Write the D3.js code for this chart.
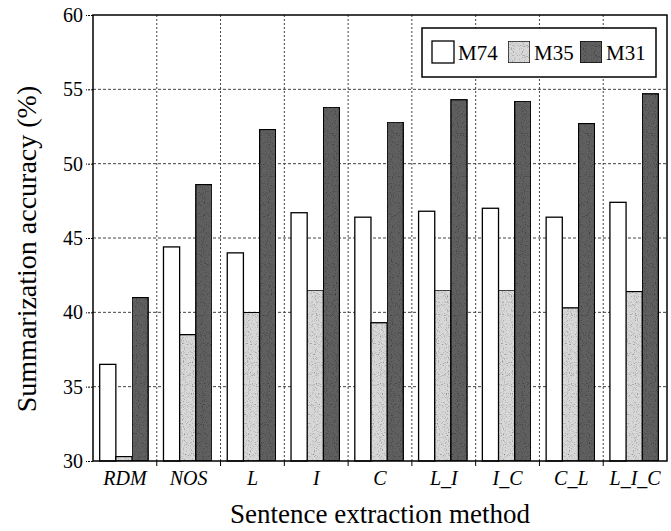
<!DOCTYPE html>
<html>
<head>
<meta charset="utf-8">
<script src="https://cdnjs.cloudflare.com/ajax/libs/d3/7.8.5/d3.min.js"></script>
<style>
  body { margin: 0; background: #fff; }
  svg { display: block; font-family: 'Liberation Serif', 'Times New Roman', serif; }
  .axis path, .axis line { stroke: #000; }
  .grid line { stroke: #444; stroke-width: 1; }
</style>
</head>
<body>
<svg id="chart"></svg>
<script>
  'use strict';

  var categories = ['RDM', 'NOS', 'L', 'I', 'C', 'L_I', 'I_C', 'C_L', 'L_I_C'];
  var seriesNames = ['M74', 'M35', 'M31'];
  var m74 = [36.5, 44.4, 44.0, 46.7, 46.4, 46.8, 47.0, 46.4, 47.4];
  var m35 = [30.3, 38.5, 40.0, 41.5, 39.3, 41.5, 41.5, 40.3, 41.4];
  var m31 = [41.0, 48.6, 52.3, 53.8, 52.8, 54.3, 54.2, 52.7, 54.7];
  var yTicks = [30, 35, 40, 45, 50, 55, 60];

  var svgWidth = 671, svgHeight = 531;
  var plot = { left: 93, right: 667, top: 15, bottom: 461 };

  var colors = { M74: '#ffffff', M35: '#d8d8d8', M31: '#606060' };
  var grain = { M74: null, M35: 'url(#grain)', M31: 'url(#grain)' };

  var svg = d3.select('#chart')
    .attr('width', svgWidth)
    .attr('height', svgHeight);

  /* stipple look of the scanned fills */
  var filter = svg.append('defs').append('filter')
    .attr('id', 'grain')
    .attr('x', 0).attr('y', 0).attr('width', 1).attr('height', 1);
  filter.append('feTurbulence')
    .attr('type', 'fractalNoise')
    .attr('baseFrequency', 0.9)
    .attr('numOctaves', 1)
    .attr('seed', 4)
    .attr('result', 'noise');
  filter.append('feColorMatrix')
    .attr('in', 'noise')
    .attr('type', 'matrix')
    .attr('values', '0 0 0 0 0  0 0 0 0 0  0 0 0 0 0  -2.2 0 0 0 1.05')
    .attr('result', 'dots');
  filter.append('feComposite')
    .attr('in', 'dots').attr('in2', 'SourceGraphic')
    .attr('operator', 'in')
    .attr('result', 'clipped');
  var merge = filter.append('feMerge');
  merge.append('feMergeNode').attr('in', 'SourceGraphic');
  merge.append('feMergeNode').attr('in', 'clipped');

  /* build rows from the arrays */
  var rows = categories.map(function(c, i) {
    return { cat: c, values: [
      { key: 'M74', value: m74[i] },
      { key: 'M35', value: m35[i] },
      { key: 'M31', value: m31[i] }
    ] };
  });

  var x0 = d3.scaleBand().domain(categories).range([plot.left, plot.right]).padding(0);
  var bw = x0.bandwidth();
  var x1 = d3.scaleBand().domain(seriesNames).range([bw * 0.105, bw * 0.865]);
  var y = d3.scaleLinear().domain([30, 60]).range([plot.bottom, plot.top]);

  /* grid */
  var grid = svg.append('g').attr('class', 'grid');
  grid.selectAll('.hg')
    .data(yTicks.slice(1, -1))
    .enter().append('line')
      .attr('x1', plot.left).attr('x2', plot.right)
      .attr('y1', function(d) { return y(d); })
      .attr('y2', function(d) { return y(d); })
      .attr('stroke-dasharray', '3,2');
  grid.selectAll('.vg')
    .data(categories.slice(1))
    .enter().append('line')
      .attr('x1', function(d) { return x0(d); })
      .attr('x2', function(d) { return x0(d); })
      .attr('y1', plot.top).attr('y2', plot.bottom)
      .attr('stroke-dasharray', '2,2');

  /* bars */
  var groups = svg.append('g').selectAll('.group')
    .data(rows)
    .enter().append('g')
      .attr('transform', function(d) { return 'translate(' + x0(d.cat) + ',0)'; });

  groups.selectAll('rect')
    .data(function(d) { return d.values; })
    .enter().append('rect')
      .attr('x', function(d) { return x1(d.key); })
      .attr('width', x1.bandwidth())
      .attr('y', function(d) { return y(d.value); })
      .attr('height', function(d) { return plot.bottom - y(d.value); })
      .attr('fill', function(d) { return colors[d.key]; })
      .attr('filter', function(d) { return grain[d.key]; })
      .attr('stroke', '#000')
      .attr('stroke-width', 1.3);

  /* y axis */
  var yAxis = d3.axisLeft(y).tickValues(yTicks).tickSize(7).tickPadding(3);
  var gy = svg.append('g')
    .attr('class', 'axis')
    .attr('transform', 'translate(' + plot.left + ',0)')
    .call(yAxis);
  gy.select('.domain').remove();
  gy.selectAll('.tick line').attr('stroke-dasharray', '2,1');
  gy.selectAll('text')
    .style('font-size', '20px')
    .style('font-family', "'Liberation Serif', serif")
    .attr('fill', '#000');

  /* x axis labels centred in bands */
  var xAxis = d3.axisBottom(x0).tickSize(0).tickPadding(10);
  var gx = svg.append('g')
    .attr('class', 'axis')
    .attr('transform', 'translate(0,' + plot.bottom + ')')
    .call(xAxis);
  gx.select('.domain').remove();
  gx.selectAll('text')
    .style('font-size', '20px')
    .style('font-style', 'italic')
    .style('font-family', "'Liberation Serif', serif")
    .attr('fill', '#000');

  /* boundary ticks below the axis */
  svg.append('g').selectAll('line')
    .data(categories.slice(1))
    .enter().append('line')
      .attr('x1', function(d) { return x0(d); })
      .attr('x2', function(d) { return x0(d); })
      .attr('y1', plot.bottom).attr('y2', plot.bottom + 5)
      .attr('stroke', '#000');

  /* legend */
  var legend = svg.append('g');
  legend.append('rect')
    .attr('x', 422).attr('y', 28)
    .attr('width', 234).attr('height', 49)
    .attr('fill', '#fff')
    .attr('stroke', '#000')
    .attr('stroke-width', 1.5);
  var legendX = [432, 508, 580];
  var items = legend.selectAll('.item')
    .data(seriesNames)
    .enter().append('g')
      .attr('transform', function(d, i) { return 'translate(' + legendX[i] + ',41)'; });
  items.append('rect')
    .attr('width', 22).attr('height', 22)
    .attr('fill', function(d) { return colors[d]; })
    .attr('filter', function(d) { return grain[d]; })
    .attr('stroke', '#000')
    .attr('stroke-width', 1.3);
  items.append('text')
    .attr('x', 26).attr('y', 19)
    .style('font-size', '21px')
    .text(function(d) { return d; });

  /* plot frame */
  svg.append('rect')
    .attr('x', plot.left).attr('y', plot.top)
    .attr('width', plot.right - plot.left).attr('height', plot.bottom - plot.top)
    .attr('fill', 'none')
    .attr('stroke', '#000')
    .attr('stroke-width', 1.5);

  /* titles */
  svg.append('text')
    .attr('x', (plot.left + plot.right) / 2)
    .attr('y', 523)
    .attr('text-anchor', 'middle')
    .style('font-size', '27px')
    .text('Sentence extraction method');

  svg.append('text')
    .attr('transform', 'translate(36,249) rotate(-90)')
    .attr('text-anchor', 'middle')
    .style('font-size', '28px')
    .text('Summarization accuracy (%)');
</script>
</body>
</html>
